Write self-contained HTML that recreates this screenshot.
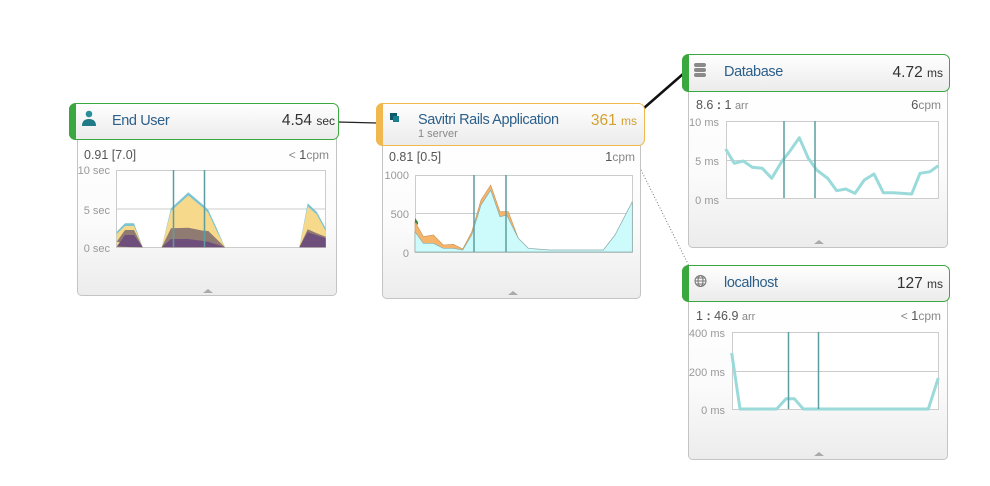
<!DOCTYPE html>
<html><head><meta charset="utf-8"><style>
html,body{margin:0;padding:0;background:#fff;}
svg{display:block;font-family:"Liberation Sans",sans-serif;}
.t{letter-spacing:-0.4px}
</style></head><body>
<svg width="990" height="486" viewBox="0 0 990 486" xmlns="http://www.w3.org/2000/svg">
<defs>
<linearGradient id="bg" x1="0" y1="0" x2="0" y2="1"><stop offset="0" stop-color="#fff"/><stop offset="0.55" stop-color="#fbfbfb"/><stop offset="1" stop-color="#ececec"/></linearGradient>
<linearGradient id="hg" x1="0" y1="0" x2="0" y2="1"><stop offset="0" stop-color="#fff"/><stop offset="1" stop-color="#ebebeb"/></linearGradient>
</defs>
<line x1="338" y1="122" x2="377" y2="123" stroke="#222" stroke-width="1.3"/>
<line x1="644" y1="108" x2="683" y2="74" stroke="#111" stroke-width="2.5"/>
<line x1="641" y1="170" x2="690" y2="268" stroke="#777" stroke-width="1" stroke-dasharray="1,2"/>

<rect x="77.5" y="130.5" width="259" height="165" rx="4" fill="url(#bg)" stroke="#c4c4c4"/>
<path d="M203 293 l5 -4 l5 4z" fill="#aaa"/>
<rect x="69.5" y="103.5" width="269" height="36" rx="6" fill="url(#hg)" stroke="#3aa83e"/>
<path d="M76 103.5 h-1 a6 6 0 0 0 -6 6 v24 a6 6 0 0 0 6 6 h1z" fill="#3aa83e"/>
<circle cx="89" cy="114" r="3.3" fill="#2a8d9a"/><path d="M82 126 q0 -7 7 -7 q7 0 7 7z" fill="#1f7a87"/>
<text class="t" x="112" y="125" font-size="14.5" fill="#2c5f8a">End User</text>
<text x="335" y="125" font-size="15.5" fill="#333" text-anchor="end">4.54 <tspan font-size="12">sec</tspan></text>
<text x="84" y="159" font-size="12.5" fill="#555">0.91 [7.0]</text>
<text x="329" y="159" font-size="12" fill="#888" text-anchor="end">&lt; <tspan fill="#555" font-size="13">1</tspan>cpm</text>
<text x="110" y="174" font-size="11" fill="#999" text-anchor="end">10 sec</text>
<text x="110" y="214" font-size="11" fill="#999" text-anchor="end">5 sec</text>
<text x="110" y="252" font-size="11" fill="#999" text-anchor="end">0 sec</text>
<rect x="116.5" y="170.5" width="209" height="77" fill="#fff" stroke="#ccc"/>
<line x1="116" y1="209" x2="326" y2="209" stroke="#ccc"/>
<g stroke="none">
<path d="M116.7 231.7 L125 223.3 L134 223.3 L142.7 247.3 L116.7 247.3Z M161.7 247.3 L171 208.3 L188.3 192.3 L203.3 205 L208.3 210 L216.7 228.3 L225 247.3Z M299.3 247.3 L307.7 203.3 L316.7 211.7 L325.7 228.3 L325.7 247.3Z" fill="#7cc3d3"/>
<path d="M116.7 234 L125 226 L134 226 L142.7 247.3 L116.7 247.3Z M161.7 247.3 L171 211 L188.3 195.5 L203.3 208 L208.3 213 L216.7 231 L225 247.3Z M299.3 247.3 L307.7 206.5 L316.7 214.5 L325.7 231 L325.7 247.3Z" fill="#f7d98c"/>
<path d="M116.7 241.7 L125 230 L134 230 L142.7 247.3Z M161.7 247.3 L171 228.3 L188.3 227.7 L203.3 230.7 L208.3 231 L225 247.3Z M299.3 247.3 L307.7 229.3 L316.7 233.3 L325.7 236.7 L325.7 247.3Z" fill="#8f7b72"/>
<path d="M116.7 246.7 L125 235 L134 235 L142.7 247.3Z M161.7 247.3 L171 239 L188.3 239 L208.3 241.7 L225 247.3Z M299.3 247.3 L307.7 232.3 L325.7 238.3 L325.7 247.3Z" fill="#6e4f7c"/>
</g>
<line x1="173.5" y1="170" x2="173.5" y2="247" stroke="#5a9ea0" stroke-width="1.5"/>
<line x1="204.5" y1="170" x2="204.5" y2="247" stroke="#5a9ea0" stroke-width="1.5"/>

<rect x="382.5" y="138.5" width="258" height="160" rx="4" fill="url(#bg)" stroke="#c4c4c4"/>
<path d="M508 295 l5 -4 l5 4z" fill="#aaa"/>
<rect x="376.5" y="103.5" width="268" height="42" rx="6" fill="url(#hg)" stroke="#f0b84e"/>
<path d="M383 103.5 h-1 a6 6 0 0 0 -6 6 v30 a6 6 0 0 0 6 6 h1z" fill="#f0b84e"/>
<rect x="390" y="113" width="7" height="7" fill="#0e5a6a"/><rect x="393" y="116" width="6" height="6" fill="#1b7d8e"/>
<text class="t" x="418" y="124" font-size="14.5" fill="#2c5f8a">Savitri Rails Application</text>
<text x="418" y="137" font-size="11" fill="#888">1 server</text>
<text x="637" y="125" font-size="15.5" fill="#d4a030" text-anchor="end">361 <tspan font-size="12">ms</tspan></text>
<text x="389" y="161" font-size="12.5" fill="#555">0.81 [0.5]</text>
<text x="635" y="161" font-size="12" fill="#888" text-anchor="end"><tspan fill="#555" font-size="13">1</tspan>cpm</text>
<text x="409" y="179" font-size="11" fill="#999" text-anchor="end">1000</text>
<text x="409" y="218" font-size="11" fill="#999" text-anchor="end">500</text>
<text x="409" y="257" font-size="11" fill="#999" text-anchor="end">0</text>
<rect x="415.5" y="175.5" width="217" height="77" fill="#fff" stroke="#ccc"/>
<line x1="415" y1="213.5" x2="632" y2="213.5" stroke="#ccc"/>
<path d="M415 221.7 L423.3 236.7 L433.3 235 L443.3 245 L453.3 244.3 L462.7 249 L471.7 232 L481 200 L490.7 185 L500 211.7 L508.3 211.7 L518.3 238.3 L518.3 252 L415 252Z" fill="#f6b46a" stroke="#c89050" stroke-width="0.6"/>
<path d="M415 218 L418 222 L418 225 L415 222Z" fill="#3a8a3a"/>
<path d="M415 231.7 L423.3 243.3 L433.3 243.3 L443.3 248.3 L453.3 248.3 L462.7 250 L471.7 235 L481 205 L490.7 190 L500 216.7 L506.7 215 L518.3 238.3 L528.3 248.3 L536.7 249 L550 250 L566.7 250 L603.3 250 L615 235 L632.3 201.7 L632.3 252 L415 252Z" fill="#cdfafa" stroke="#8aa" stroke-width="0.7"/>
<line x1="474" y1="175" x2="474" y2="252" stroke="#5a9ea0" stroke-width="1.5"/>
<line x1="506" y1="175" x2="506" y2="252" stroke="#5a9ea0" stroke-width="1.5"/>

<rect x="688.5" y="82.5" width="259" height="165" rx="4" fill="url(#bg)" stroke="#c4c4c4"/>
<path d="M814 244 l5 -4 l5 4z" fill="#aaa"/>
<rect x="682.5" y="54.5" width="267" height="37" rx="6" fill="url(#hg)" stroke="#3aa83e"/>
<path d="M689 54.5 h-1 a6 6 0 0 0 -6 6 v25 a6 6 0 0 0 6 6 h1z" fill="#3aa83e"/>
<g fill="#8a8a8a"><rect x="694" y="63" width="12" height="4" rx="2"/><rect x="694" y="68" width="12" height="4" rx="2"/><rect x="694" y="73" width="12" height="4" rx="2"/></g>
<text class="t" x="724" y="76" font-size="14.5" fill="#2c5f8a">Database</text>
<text x="943" y="77" font-size="15.5" fill="#333" text-anchor="end">4.72 <tspan font-size="12">ms</tspan></text>
<text x="696" y="109" font-size="12.5" fill="#555">8.6 <tspan font-weight="bold">:</tspan> 1 <tspan fill="#888" font-size="11">arr</tspan></text>
<text x="941" y="109" font-size="12" fill="#888" text-anchor="end"><tspan fill="#555" font-size="13">6</tspan>cpm</text>
<text x="719" y="126" font-size="11" fill="#999" text-anchor="end">10 ms</text>
<text x="719" y="165" font-size="11" fill="#999" text-anchor="end">5 ms</text>
<text x="719" y="204" font-size="11" fill="#999" text-anchor="end">0 ms</text>
<rect x="726.5" y="121.5" width="212" height="77" fill="#fff" stroke="#ccc"/>
<line x1="726" y1="160.5" x2="938" y2="160.5" stroke="#ccc"/>
<polyline points="725.7,149 734.3,163.3 743.3,161 752.3,167.3 762.3,168.3 771.7,178.3 781.7,161.7 790,151 799.3,137.7 808.3,158.3 816.7,170 827.7,178.3 836.7,190.7 845.7,189 855,193.3 864.3,180 874,174 883.3,192.7 893.3,192.7 911.7,194 920,173.3 930,171.7 938.3,165.7" fill="none" stroke="#9adada" stroke-width="3" stroke-linejoin="round"/>
<line x1="784" y1="121" x2="784" y2="198" stroke="#5a9ea0" stroke-width="1.5"/>
<line x1="815" y1="121" x2="815" y2="198" stroke="#5a9ea0" stroke-width="1.5"/>

<rect x="688.5" y="293.5" width="259" height="166" rx="4" fill="url(#bg)" stroke="#c4c4c4"/>
<path d="M814 456 l5 -4 l5 4z" fill="#aaa"/>
<rect x="682.5" y="265.5" width="267" height="36" rx="6" fill="url(#hg)" stroke="#3aa83e"/>
<path d="M689 265.5 h-1 a6 6 0 0 0 -6 6 v24 a6 6 0 0 0 6 6 h1z" fill="#3aa83e"/>
<g fill="none" stroke="#777" stroke-width="1"><circle cx="700.5" cy="281" r="5.5"/><ellipse cx="700.5" cy="281" rx="2.5" ry="5.5"/><line x1="695" y1="281" x2="706" y2="281"/><line x1="696" y1="278" x2="705" y2="278"/><line x1="696" y1="284" x2="705" y2="284"/></g>
<text class="t" x="724" y="287" font-size="14.5" fill="#2c5f8a">localhost</text>
<text x="943" y="288" font-size="15.5" fill="#333" text-anchor="end">127 <tspan font-size="12">ms</tspan></text>
<text x="696" y="320" font-size="12.5" fill="#555">1 <tspan font-weight="bold">:</tspan> 46.9 <tspan fill="#888" font-size="11">arr</tspan></text>
<text x="941" y="320" font-size="12" fill="#888" text-anchor="end">&lt; <tspan fill="#555" font-size="13">1</tspan>cpm</text>
<text x="725" y="337" font-size="11" fill="#999" text-anchor="end">400 ms</text>
<text x="725" y="376" font-size="11" fill="#999" text-anchor="end">200 ms</text>
<text x="725" y="414" font-size="11" fill="#999" text-anchor="end">0 ms</text>
<rect x="732.5" y="332.5" width="206" height="77" fill="#fff" stroke="#ccc"/>
<line x1="732" y1="371.5" x2="938" y2="371.5" stroke="#ccc"/>
<polyline points="731.7,353 740,409 776.7,409 786,398.7 794.3,398.7 803.3,409 928.3,409 938.3,378" fill="none" stroke="#9adada" stroke-width="3" stroke-linejoin="round"/>
<line x1="788.5" y1="332" x2="788.5" y2="409" stroke="#5a9ea0" stroke-width="1.5"/>
<line x1="818.5" y1="332" x2="818.5" y2="409" stroke="#5a9ea0" stroke-width="1.5"/>
</svg>
</body></html>
